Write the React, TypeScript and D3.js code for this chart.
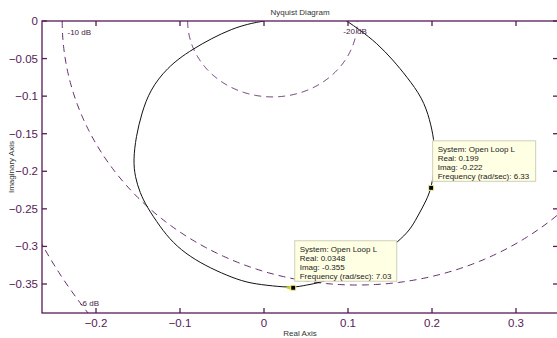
import React from "react";
import * as d3 from "d3";

// Open-loop frequency response L(jw), read along increasing frequency
const nyqRe = [
  0.082, 0.0985, 0.1143, 0.1342, 0.1536, 0.1699, 0.1887, 0.1976, 0.2024, 0.2036,
  0.2022, 0.199, 0.1937, 0.1818, 0.1738, 0.1595, 0.135, 0.103, 0.0667, 0.0508,
  0.0348, 0.0107, -0.0167, -0.0369, -0.0643, -0.0881, -0.1083, -0.1238, -0.1396, -0.1476,
  -0.1536, -0.1556, -0.1524, -0.1456, -0.1357, -0.1158, -0.0881, -0.0365, 0,
];
const nyqIm = [
  0.012, 0, -0.012, -0.0293, -0.0519, -0.0741, -0.1025, -0.1318, -0.1584, -0.18,
  -0.202, -0.222, -0.2382, -0.2622, -0.2781, -0.2937, -0.316, -0.335, -0.3483, -0.3513,
  -0.355, -0.3527, -0.3491, -0.342, -0.3287, -0.3137, -0.2955, -0.2738, -0.2471, -0.2289,
  -0.2072, -0.185, -0.154, -0.1224, -0.0918, -0.0625, -0.0386, -0.0076, 0,
];

// Closed-loop magnitude contours (M-circles)
const mCirclesDb = [-20, -10, -6];

// Data tips
const tipSystem = ["Open Loop L", "Open Loop L"];
const tipReal = [0.199, 0.0348];
const tipImag = [-0.222, -0.355];
const tipFreq = [6.33, 7.03];
const tipRealText = ["0.199", "0.0348"];
const tipImagText = ["-0.222", "-0.355"];

const xTicks = [-0.2, -0.1, 0, 0.1, 0.2, 0.3];
const yTicks = [0, -0.05, -0.1, -0.15, -0.2, -0.25, -0.3, -0.35];
const xDomain = [-0.2643, 0.35];
const yDomain = [-0.3886, 0];

const W = 557;
const H = 338;
const L = 42;
const R = 558;
const T = 21;
const B = 313;

const AXIS = "#561a56";
const GRID = "#652d6e";
const FONT = "'Liberation Sans', Arial, Helvetica, sans-serif";

export default function App() {
  const x = d3.scaleLinear().domain(xDomain).range([L, R]);
  const y = d3.scaleLinear().domain(yDomain).range([B, T]);

  const pts: [number, number][] = nyqRe.map((r, i) => [r, nyqIm[i]]);
  const curve = d3
    .line<[number, number]>()
    .x((d) => x(d[0]))
    .y((d) => y(d[1]))
    .curve(d3.curveBasis)(pts);

  const circlePath = (db: number) => {
    const m = Math.pow(10, db / 20);
    const m2 = m * m;
    const cx = -m2 / (m2 - 1);
    const r = Math.abs(m / (m2 - 1));
    const angles = d3.range(0, 361).map((k) => Math.PI + (k * Math.PI) / 360);
    return d3
      .line<number>()
      .x((a) => x(cx + r * Math.cos(a)))
      .y((a) => y(r * Math.sin(a)))(angles);
  };

  const tickLen = 5;

  return (
    <svg
      width={W}
      height={H}
      style={{ position: "absolute", left: 0, top: 0, background: "#fff" }}
      fontFamily={FONT}
    >
      <defs>
        <clipPath id="plotClip">
          <rect x={L} y={T} width={R - L} height={B - T} />
        </clipPath>
      </defs>
      <rect x={0} y={0} width={W} height={H} fill="#fff" />

      <g clipPath="url(#plotClip)">
        {mCirclesDb.map((db) => (
          <path
            key={db}
            d={circlePath(db) ?? ""}
            fill="none"
            stroke={GRID}
            strokeWidth={1}
            strokeDasharray="7,5"
          />
        ))}
        <path d={curve ?? ""} fill="none" stroke="#111" strokeWidth={1} />
      </g>

      {/* contour labels */}
      <g fontSize={8} fill="#3e2440">
        <text x={x(-0.2399) + 5} y={y(0) + 14}>-10 dB</text>
        <text x={x(0.1111) - 14} y={y(0) + 13}>-20 dB</text>
        <text x={x(-0.2096) - 8} y={y(-0.3886) - 7}>-6 dB</text>
      </g>

      {/* axes box */}
      <rect x={L} y={T} width={R - L} height={B - T} fill="none" stroke={AXIS} strokeWidth={1.3} />
      {xTicks.map((t) => (
        <g key={"x" + t}>
          <line x1={x(t)} x2={x(t)} y1={B} y2={B - tickLen} stroke={AXIS} strokeWidth={1.3} />
          <line x1={x(t)} x2={x(t)} y1={T} y2={T + tickLen} stroke={AXIS} strokeWidth={1.3} />
          <text x={x(t)} y={B + 14} fontSize={11.5} fill={AXIS} textAnchor="middle">
            {d3.format("")(t)}
          </text>
        </g>
      ))}
      {yTicks.map((t) => (
        <g key={"y" + t}>
          <line x1={L} x2={L + tickLen} y1={y(t)} y2={y(t)} stroke={AXIS} strokeWidth={1.3} />
          <line x1={R} x2={R - tickLen} y1={y(t)} y2={y(t)} stroke={AXIS} strokeWidth={1.3} />
          <text x={L - 4} y={y(t) + 4} fontSize={11.5} fill={AXIS} textAnchor="end">
            {d3.format("")(t)}
          </text>
        </g>
      ))}

      <text x={(L + R) / 2} y={15} fontSize={8} fill="#333" textAnchor="middle">
        Nyquist Diagram
      </text>
      <text x={(L + R) / 2} y={336} fontSize={8} fill="#333" textAnchor="middle">
        Real Axis
      </text>
      <text
        transform={`translate(14, ${(T + B) / 2}) rotate(-90)`}
        fontSize={8}
        fill="#333"
        textAnchor="middle"
      >
        Imaginary Axis
      </text>

      {/* data tips */}
      {tipReal.map((re, i) => {
        const px = x(re);
        const py = y(tipImag[i]);
        const bx = px + 1.5;
        const by = py - 47;
        const bw = i === 0 ? 103 : 102;
        const lines = [
          `System: ${tipSystem[i]}`,
          `Real: ${tipRealText[i]}`,
          `Imag: ${tipImagText[i]}`,
          `Frequency (rad/sec): ${tipFreq[i]}`,
        ];
        return (
          <g key={"tip" + i}>
            <rect x={bx} y={by} width={bw} height={40.5} fill="#ffffe4" stroke="#cfcfb8" strokeWidth={1} />
            {lines.map((s, k) => (
              <text key={k} x={bx + 5} y={by + 11.5 + k * 9} fontSize={8} fill="#222">
                {s}
              </text>
            ))}
            {i === 1 && (
              <polygon
                points={`${px - 8},${py} ${px - 3},${py - 2} ${px - 3},${py + 2}`}
                fill="#d4d400"
              />
            )}
            <rect x={px - 2.5} y={py - 2.5} width={5} height={5} fill="#000" stroke="#f2f2a0" strokeWidth={1} />
          </g>
        );
      })}
    </svg>
  );
}
